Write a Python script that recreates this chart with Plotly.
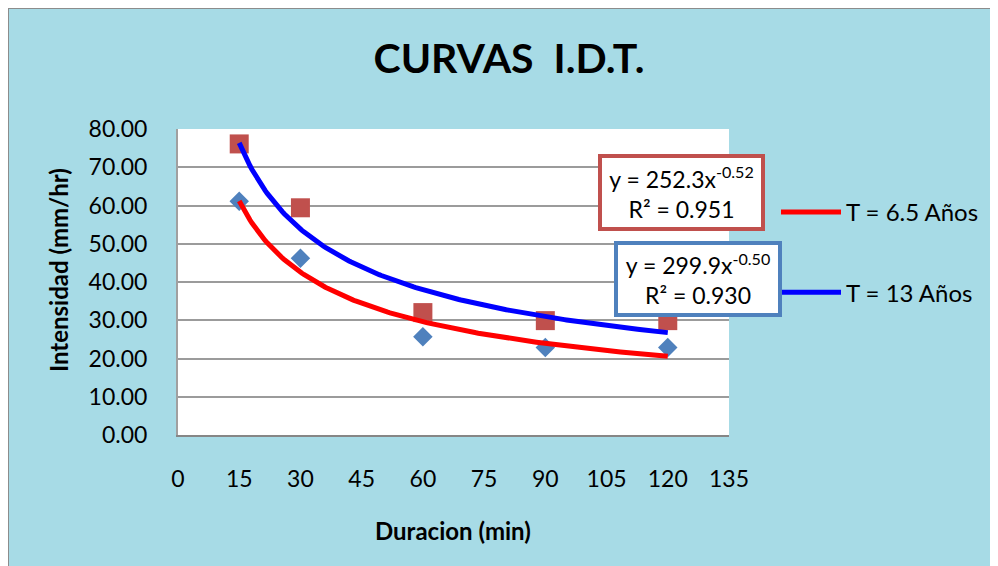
import numpy as np
import plotly.graph_objects as go

# ---- data ----
duracion = [15, 30, 60, 90, 120]
int_t65 = [61.1, 46.2, 25.7, 22.9, 22.9]   # blue diamonds, fitted by red power trend
int_t13 = [76.1, 59.4, 32.0, 29.9, 29.9]   # red squares, fitted by blue power trend
serie_names = ["T = 6.5 Años", "T = 13 Años"]
eq_t65 = "y = 252.3x<sup>-0.52</sup><br>R² = 0.951"
eq_t13 = "y = 299.9x<sup>-0.50</sup><br>R² = 0.930"
x_ticks = [0, 15, 30, 45, 60, 75, 90, 105, 120, 135]
y_ticks = [0, 10, 20, 30, 40, 50, 60, 70, 80]

FONT = "Lato"


def power_fit(x, y):
    b, ln_a = np.polyfit(np.log(x), np.log(y), 1)
    xs = np.linspace(min(x), max(x), 200)
    return xs, np.exp(ln_a) * xs ** b


fig = go.Figure()

fig.add_trace(go.Scatter(x=duracion, y=int_t65, mode="markers", showlegend=False,
                         marker=dict(symbol="diamond", size=15, color="#4f81bd")))
fig.add_trace(go.Scatter(x=duracion, y=int_t13, mode="markers", showlegend=False,
                         marker=dict(symbol="square", size=19, color="#c0504d")))

xs, ys = power_fit(duracion, int_t65)
fig.add_trace(go.Scatter(x=xs, y=ys, mode="lines", name=serie_names[0], legendgroup="a",
                         line=dict(color="#ff0000", width=5)))
xs, ys = power_fit(duracion, int_t13)
fig.add_trace(go.Scatter(x=xs, y=ys, mode="lines", name=serie_names[1], legendgroup="b",
                         line=dict(color="#0000ff", width=5)))

# page offset of the figure (body margin) is 8 px
OFF = 8
W, H = 990, 558
L, T = 178 - OFF, 129 - OFF
R = W - (729 - OFF)
B = H - (435 - OFF)
pw, ph = W - L - R, H - T - B


def px2paper(px, py):
    return (px - OFF - L) / pw, (H - B - (py - OFF)) / ph


ax1, ay1 = px2paper(681.5, 192.5)
ax2, ay2 = px2paper(698, 279)
tx, ty = px2paper(58, 270)
xx, xy = px2paper(453, 530)
lgx, lgy = px2paper(776, 190)

fig.update_layout(
    width=W, height=H, autosize=False,
    margin=dict(l=L, r=R, t=T, b=B),
    paper_bgcolor="#a7dbe6",
    plot_bgcolor="#ffffff",
    font=dict(family=FONT, color="#000000", size=23),
    title=dict(text="CURVAS  I.D.T.", x=(509 - OFF) / W, xanchor="center", xref="container",
               y=1 - (59 - OFF) / H, yanchor="middle", yref="container",
               font=dict(family=FONT, size=41, weight="bold", color="#000000")),
    xaxis=dict(range=[0, 135], tickvals=x_ticks, showgrid=False, zeroline=False,
               showline=True, linecolor="#868686", linewidth=2,
               ticks="", ticklabelstandoff=22, tickfont=dict(size=23)),
    yaxis=dict(range=[0, 80], tickvals=y_ticks, tickformat=".2f", showgrid=True,
               gridcolor="#9b9b9b", gridwidth=2, zeroline=False,
               showline=True, linecolor="#a0a0a0", linewidth=2,
               ticks="", ticklabelstandoff=24, tickfont=dict(size=23)),
    legend=dict(x=lgx, y=lgy, xanchor="left", yanchor="top",
                bgcolor="rgba(0,0,0,0)", font=dict(size=24), tracegroupgap=46,
                itemwidth=60),
    annotations=[
        dict(text=eq_t65, xref="paper", yref="paper", x=ax1, y=ay1, xanchor="center",
             yanchor="middle", showarrow=False, bgcolor="#ffffff", bordercolor="#c0504d",
             borderwidth=4, borderpad=2, width=155, height=65, font=dict(size=23)),
        dict(text=eq_t13, xref="paper", yref="paper", x=ax2, y=ay2, xanchor="center",
             yanchor="middle", showarrow=False, bgcolor="#ffffff", bordercolor="#4f81bd",
             borderwidth=4, borderpad=2, width=156, height=64, font=dict(size=23)),
        dict(text="Intensidad (mm/hr)", xref="paper", yref="paper", x=tx, y=ty,
             textangle=-90, showarrow=False, xanchor="center", yanchor="middle",
             font=dict(size=24, weight="bold")),
        dict(text="Duracion (min)", xref="paper", yref="paper", x=xx, y=xy,
             showarrow=False, xanchor="center", yanchor="middle",
             font=dict(size=24, weight="bold")),
    ],
    shapes=[
        dict(type="rect", xref="paper", yref="paper",
             x0=-L / pw, y0=-B / ph - 0.2, x1=(W - L) / pw + 0.2, y1=(H - B) / ph,
             line=dict(color="#8c8c8c", width=2), fillcolor="rgba(0,0,0,0)", layer="below"),
    ],
)

fig.write_html("out.html")
